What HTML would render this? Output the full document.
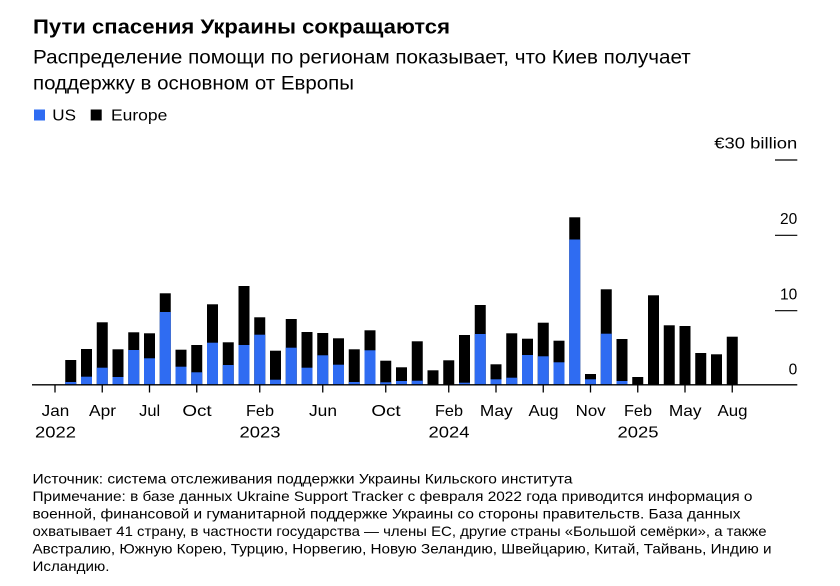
<!DOCTYPE html>
<html><head><meta charset="utf-8"><style>
html,body{margin:0;padding:0;background:#fff;width:840px;height:586px;overflow:hidden}
svg{display:block}
text{font-family:"Liberation Sans","DejaVu Sans",sans-serif;fill:#000}
</style></head><body>
<svg width="840" height="586" viewBox="0 0 840 586" xmlns="http://www.w3.org/2000/svg">
<rect width="840" height="586" fill="#fff"/>
<text x="33" y="33.3" font-size="20.5" font-weight="bold" textLength="417" lengthAdjust="spacingAndGlyphs">Пути спасения Украины сокращаются</text>
<text x="33" y="63.3" font-size="19" textLength="657.7" lengthAdjust="spacingAndGlyphs">Распределение помощи по регионам показывает, что Киев получает</text>
<text x="33" y="89.3" font-size="19" textLength="321" lengthAdjust="spacingAndGlyphs">поддержку в основном от Европы</text>
<rect x="34" y="109.5" width="11" height="11" fill="#2f6cf2"/>
<text x="52.3" y="120.3" font-size="16" textLength="23.7" lengthAdjust="spacingAndGlyphs">US</text>
<rect x="90.7" y="109.5" width="11" height="11" fill="#000"/>
<text x="111" y="120.3" font-size="16" textLength="56.3" lengthAdjust="spacingAndGlyphs">Europe</text>

<g font-size="15.5" text-anchor="end">
<text x="797.3" y="148.3" textLength="83" lengthAdjust="spacingAndGlyphs">€30 billion</text>
<text x="797.3" y="224">20</text>
<text x="797.3" y="299.3">10</text>
<text x="797.3" y="374.3">0</text>
</g>
<g stroke="#000" stroke-width="1.2">
<line x1="775" y1="160" x2="797.3" y2="160"/>
<line x1="775" y1="235.3" x2="797.3" y2="235.3"/>
<line x1="775" y1="310.7" x2="797.3" y2="310.7"/>
</g>

<g fill="#000">
<rect x="65.25" y="360" width="11" height="24.5"/>
<rect x="81" y="349" width="11" height="35.5"/>
<rect x="96.75" y="322.3" width="11" height="62.2"/>
<rect x="112.5" y="349.3" width="11" height="35.2"/>
<rect x="128.25" y="332.3" width="11" height="52.2"/>
<rect x="144" y="333.3" width="11" height="51.2"/>
<rect x="159.75" y="293.3" width="11" height="91.2"/>
<rect x="175.5" y="349.7" width="11" height="34.8"/>
<rect x="191.25" y="345" width="11" height="39.5"/>
<rect x="207" y="304.3" width="11" height="80.2"/>
<rect x="222.75" y="342.3" width="11" height="42.2"/>
<rect x="238.5" y="286" width="11" height="98.5"/>
<rect x="254.25" y="317.3" width="11" height="67.2"/>
<rect x="270" y="350.7" width="11" height="33.8"/>
<rect x="285.75" y="319" width="11" height="65.5"/>
<rect x="301.5" y="332" width="11" height="52.5"/>
<rect x="317.25" y="333" width="11" height="51.5"/>
<rect x="333" y="338.3" width="11" height="46.2"/>
<rect x="348.75" y="349.3" width="11" height="35.2"/>
<rect x="364.5" y="330.3" width="11" height="54.2"/>
<rect x="380.25" y="360.7" width="11" height="23.8"/>
<rect x="396" y="367.3" width="11" height="17.2"/>
<rect x="411.75" y="341.3" width="11" height="43.2"/>
<rect x="427.5" y="370.3" width="11" height="14.2"/>
<rect x="443.25" y="360.3" width="11" height="24.2"/>
<rect x="459" y="335" width="11" height="49.5"/>
<rect x="474.75" y="305" width="11" height="79.5"/>
<rect x="490.5" y="364.3" width="11" height="20.2"/>
<rect x="506.25" y="333.3" width="11" height="51.2"/>
<rect x="522" y="338.7" width="11" height="45.8"/>
<rect x="537.75" y="322.7" width="11" height="61.8"/>
<rect x="553.5" y="340.7" width="11" height="43.8"/>
<rect x="569.25" y="217.3" width="11" height="167.2"/>
<rect x="585" y="374" width="11" height="10.5"/>
<rect x="600.75" y="289.3" width="11" height="95.2"/>
<rect x="616.5" y="339" width="11" height="45.5"/>
<rect x="632.25" y="377" width="11" height="7.5"/>
<rect x="648" y="295.3" width="11" height="89.2"/>
<rect x="663.75" y="325.3" width="11" height="59.2"/>
<rect x="679.5" y="326" width="11" height="58.5"/>
<rect x="695.25" y="353" width="11" height="31.5"/>
<rect x="711" y="354.3" width="11" height="30.2"/>
<rect x="726.75" y="336.7" width="11" height="47.8"/>
</g>
<g fill="#2f6cf2">
<rect x="65.25" y="382" width="11" height="2.5"/>
<rect x="81" y="376.7" width="11" height="7.8"/>
<rect x="96.75" y="367.7" width="11" height="16.8"/>
<rect x="112.5" y="377" width="11" height="7.5"/>
<rect x="128.25" y="350" width="11" height="34.5"/>
<rect x="144" y="358.3" width="11" height="26.2"/>
<rect x="159.75" y="312" width="11" height="72.5"/>
<rect x="175.5" y="366.7" width="11" height="17.8"/>
<rect x="191.25" y="372.3" width="11" height="12.2"/>
<rect x="207" y="342.7" width="11" height="41.8"/>
<rect x="222.75" y="365" width="11" height="19.5"/>
<rect x="238.5" y="345" width="11" height="39.5"/>
<rect x="254.25" y="334.7" width="11" height="49.8"/>
<rect x="270" y="379.7" width="11" height="4.8"/>
<rect x="285.75" y="347.7" width="11" height="36.8"/>
<rect x="301.5" y="367.7" width="11" height="16.8"/>
<rect x="317.25" y="355.3" width="11" height="29.2"/>
<rect x="333" y="364.7" width="11" height="19.8"/>
<rect x="348.75" y="382" width="11" height="2.5"/>
<rect x="364.5" y="350.3" width="11" height="34.2"/>
<rect x="380.25" y="382.3" width="11" height="2.2"/>
<rect x="396" y="381" width="11" height="3.5"/>
<rect x="411.75" y="380.7" width="11" height="3.8"/>
<rect x="459" y="382.7" width="11" height="1.8"/>
<rect x="474.75" y="334" width="11" height="50.5"/>
<rect x="490.5" y="379.3" width="11" height="5.2"/>
<rect x="506.25" y="377.7" width="11" height="6.8"/>
<rect x="522" y="355" width="11" height="29.5"/>
<rect x="537.75" y="356.3" width="11" height="28.2"/>
<rect x="553.5" y="362.3" width="11" height="22.2"/>
<rect x="569.25" y="239.5" width="11" height="145"/>
<rect x="585" y="379.3" width="11" height="5.2"/>
<rect x="600.75" y="333.7" width="11" height="50.8"/>
<rect x="616.5" y="381" width="11" height="3.5"/>
</g>

<line x1="32" y1="384.8" x2="797.3" y2="384.8" stroke="#000" stroke-width="1.3"/>
<g stroke="#000" stroke-width="1.3">
<line x1="55" y1="385" x2="55" y2="392.5"/>
<line x1="102.25" y1="385" x2="102.25" y2="392.5"/>
<line x1="149.5" y1="385" x2="149.5" y2="392.5"/>
<line x1="196.75" y1="385" x2="196.75" y2="392.5"/>
<line x1="259.75" y1="385" x2="259.75" y2="392.5"/>
<line x1="322.75" y1="385" x2="322.75" y2="392.5"/>
<line x1="385.75" y1="385" x2="385.75" y2="392.5"/>
<line x1="448.75" y1="385" x2="448.75" y2="392.5"/>
<line x1="496" y1="385" x2="496" y2="392.5"/>
<line x1="543.25" y1="385" x2="543.25" y2="392.5"/>
<line x1="590.5" y1="385" x2="590.5" y2="392.5"/>
<line x1="637.75" y1="385" x2="637.75" y2="392.5"/>
<line x1="685" y1="385" x2="685" y2="392.5"/>
<line x1="732.25" y1="385" x2="732.25" y2="392.5"/>
</g>
<g font-size="16" text-anchor="middle">
<text x="55.5" y="416" textLength="27.6" lengthAdjust="spacingAndGlyphs">Jan</text>
<text x="102.5" y="416" textLength="27" lengthAdjust="spacingAndGlyphs">Apr</text>
<text x="149.7" y="416" textLength="21" lengthAdjust="spacingAndGlyphs">Jul</text>
<text x="197" y="416" textLength="29.3" lengthAdjust="spacingAndGlyphs">Oct</text>
<text x="260" y="416" textLength="28" lengthAdjust="spacingAndGlyphs">Feb</text>
<text x="323" y="416" textLength="28" lengthAdjust="spacingAndGlyphs">Jun</text>
<text x="386" y="416" textLength="29.3" lengthAdjust="spacingAndGlyphs">Oct</text>
<text x="449" y="416" textLength="28" lengthAdjust="spacingAndGlyphs">Feb</text>
<text x="496.3" y="416" textLength="32.7" lengthAdjust="spacingAndGlyphs">May</text>
<text x="543.5" y="416" textLength="30" lengthAdjust="spacingAndGlyphs">Aug</text>
<text x="590.7" y="416" textLength="30" lengthAdjust="spacingAndGlyphs">Nov</text>
<text x="638" y="416" textLength="28" lengthAdjust="spacingAndGlyphs">Feb</text>
<text x="685.2" y="416" textLength="32.7" lengthAdjust="spacingAndGlyphs">May</text>
<text x="732.5" y="416" textLength="30" lengthAdjust="spacingAndGlyphs">Aug</text>
<text x="55.5" y="437.5" textLength="41" lengthAdjust="spacingAndGlyphs">2022</text>
<text x="260" y="437.5" textLength="41" lengthAdjust="spacingAndGlyphs">2023</text>
<text x="449" y="437.5" textLength="41" lengthAdjust="spacingAndGlyphs">2024</text>
<text x="638" y="437.5" textLength="41" lengthAdjust="spacingAndGlyphs">2025</text>
</g>

<g font-size="14">
<text x="32.5" y="483.3" textLength="540" lengthAdjust="spacingAndGlyphs">Источник: система отслеживания поддержки Украины Кильского института</text>
<text x="32.5" y="501" textLength="720" lengthAdjust="spacingAndGlyphs">Примечание: в базе данных Ukraine Support Tracker с февраля 2022 года приводится информация о</text>
<text x="32.5" y="518.7" textLength="708" lengthAdjust="spacingAndGlyphs">военной, финансовой и гуманитарной поддержке Украины со стороны правительств. База данных</text>
<text x="32.5" y="536.2" textLength="734" lengthAdjust="spacingAndGlyphs">охватывает 41 страну, в частности государства — члены ЕС, другие страны «Большой семёрки», а также</text>
<text x="32.5" y="553.7" textLength="739" lengthAdjust="spacingAndGlyphs">Австралию, Южную Корею, Турцию, Норвегию, Новую Зеландию, Швейцарию, Китай, Тайвань, Индию и</text>
<text x="32.5" y="571.2" textLength="77" lengthAdjust="spacingAndGlyphs">Исландию.</text>
</g>
</svg>
</body></html>
